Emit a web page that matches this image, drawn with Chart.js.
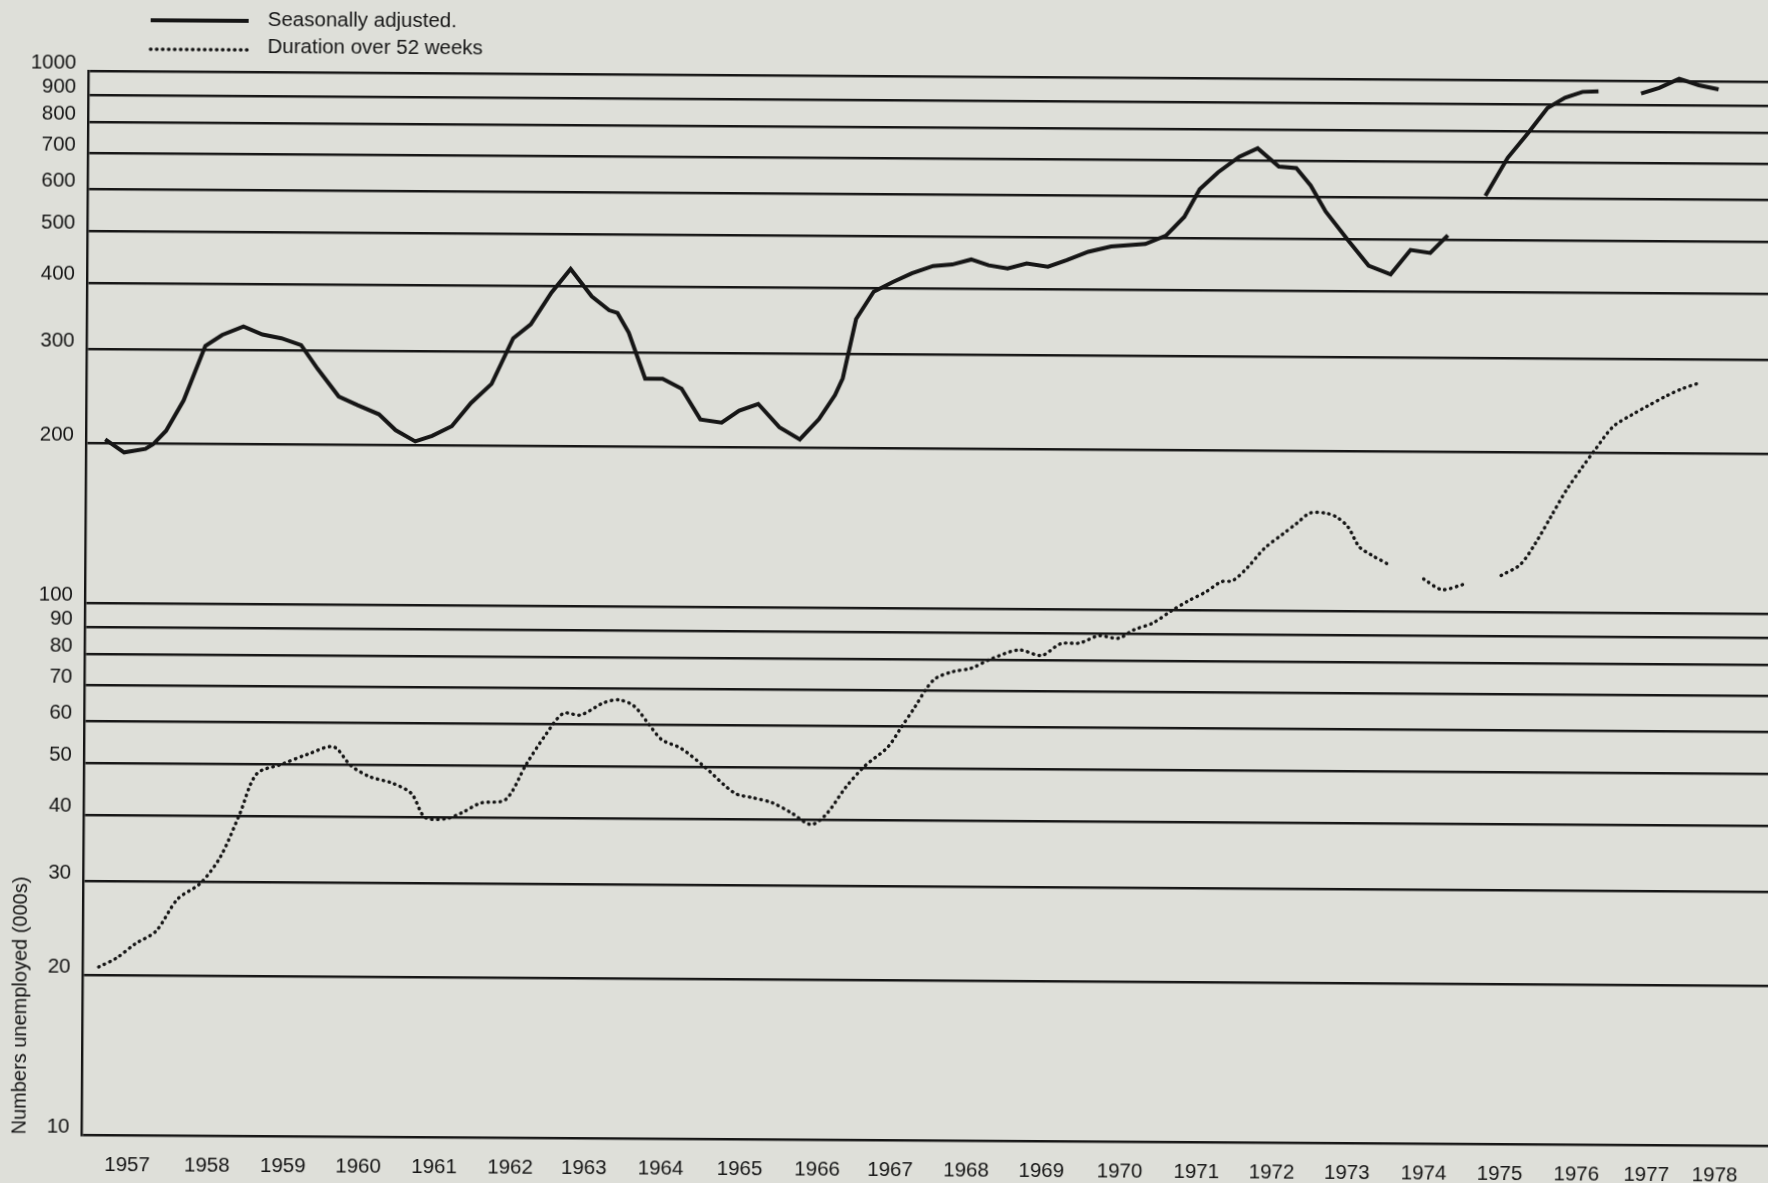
<!DOCTYPE html>
<html lang="en">
<head>
<meta charset="UTF-8">
<title>Numbers unemployed 1957-1978</title>
<script src="https://cdn.jsdelivr.net/npm/chart.js"></script>
<style>
  html, body {
    margin: 0;
    padding: 0;
    width: 1768px;
    height: 1183px;
    overflow: hidden;
    background: #dedfd9;
  }
  /* the printed page sits slightly askew in the scan */
  #wrap {
    position: absolute;
    left: 0;
    top: 0;
    width: 1790px;
    height: 1183px;
    transform: rotate(0.37deg);
    transform-origin: 884px 591px;
  }
</style>
</head>
<body>
<div id="wrap"><canvas id="chart" width="1790" height="1183"></canvas></div>
<script>
// Tick labels
const yTicks = [10, 20, 30, 40, 50, 60, 70, 80, 90, 100, 200, 300, 400, 500, 600, 700, 800, 900, 1000];
const yearLabels = ['1957', '1958', '1959', '1960', '1961', '1962', '1963', '1964', '1965', '1966', '1967',
  '1968', '1969', '1970', '1971', '1972', '1973', '1974', '1975', '1976', '1977', '1978'];
// where each year label sits on the time axis (decimal years)
const yearTickPos = [1957.50, 1958.55, 1959.55, 1960.54, 1961.54, 1962.54, 1963.51, 1964.52, 1965.56, 1966.58, 1967.54,
  1968.54, 1969.53, 1970.56, 1971.57, 1972.56, 1973.55, 1974.56, 1975.56, 1976.57, 1977.49, 1978.39];

// Seasonally adjusted (000s), null = break in the series
const saYears = [
  1957.15, 1957.40, 1957.68, 1957.78, 1957.95, 1958.18, 1958.46, 1958.68, 1958.96, 1959.21, 1959.46, 1959.72, 1959.94,
  1960.22, 1960.47, 1960.75, 1960.97, 1961.23, 1961.45, 1961.71, 1961.96, 1962.23, 1962.51, 1962.74, 1963.01, 1963.26,
  1963.54, 1963.77, 1963.88, 1964.03, 1964.25, 1964.48, 1964.73, 1964.98, 1965.26, 1965.49, 1965.74, 1966.02, 1966.29,
  1966.54, 1966.75, 1966.85, 1967.02, 1967.25, 1967.50, 1967.75, 1968.03, 1968.28, 1968.53, 1968.76, 1969.01, 1969.26,
  1969.54, 1969.79, 1970.07, 1970.37, 1970.82, 1971.09, 1971.33, 1971.53, 1971.77, 1972.05, 1972.29, 1972.57, 1972.80,
  1972.99, 1973.19, 1973.50, 1973.76, 1974.05, 1974.31, 1974.57, 1974.80, 1975.05,
  1975.29, 1975.58, 1975.84, 1976.10, 1976.33, 1976.56, 1976.77, 1977.05,
  1977.33, 1977.57, 1977.83, 1978.09, 1978.35
];
const saValues = [
  203, 192, 195, 199, 211, 241, 305, 320, 332, 321, 316, 307, 277,
  246, 237, 228, 213, 203, 208, 217, 240, 261, 318, 338, 388, 430,
  382, 360, 356, 327, 268, 268, 257, 225, 222, 234, 241, 218, 207,
  226, 251, 270, 349, 393, 410, 426, 440, 443, 453, 442, 436, 446,
  440, 453, 470, 481, 487, 505, 548, 618, 665, 712, 739, 683, 679,
  630, 563, 495, 446, 430, 478, 472, 510, null,
  605, 714, 793, 887, 928, 952, 955, null,
  947, 971, 1010, 983, 966
];

// Duration over 52 weeks (000s)
const ltYears = [
  1957.11, 1957.34, 1957.59, 1957.86, 1958.14, 1958.44, 1958.70, 1958.95, 1959.17, 1959.50, 1959.85, 1960.18, 1960.41,
  1960.66, 1960.96, 1961.21, 1961.39, 1961.67, 1961.87, 1962.12, 1962.45, 1962.72, 1962.97, 1963.20, 1963.43, 1963.73,
  1963.93, 1964.13, 1964.33, 1964.50, 1964.75, 1965.06, 1965.46, 1965.71, 1965.96, 1966.21, 1966.47, 1966.67, 1966.92,
  1967.17, 1967.47, 1967.65, 1967.83, 1967.98, 1968.10, 1968.33, 1968.56, 1968.83, 1969.19, 1969.49, 1969.74, 1969.99,
  1970.24, 1970.50, 1970.70, 1970.95, 1971.20, 1971.40, 1971.65, 1971.85, 1972.00, 1972.20, 1972.41, 1972.66, 1972.83,
  1973.01, 1973.21, 1973.36, 1973.51, 1973.66, 1973.82, 1974.06, 1974.30,
  1974.51, 1974.75, 1975.03, 1975.30,
  1975.53, 1975.78, 1975.98, 1976.18, 1976.38, 1976.59, 1976.74, 1976.99, 1977.24, 1977.44, 1977.69, 1977.89, 1978.12
];
const ltValues = [
  20.7, 21.5, 22.9, 24.2, 27.8, 29.8, 33.4, 40.2, 47.9, 50.0, 52.3, 54.0, 49.8,
  47.5, 46.2, 44.2, 39.9, 39.7, 40.7, 42.5, 43.2, 50.4, 57.2, 62.8, 62.4, 65.8,
  66.7, 65.0, 60.0, 56.2, 54.2, 50.1, 44.7, 43.8, 42.9, 41.1, 39.1, 40.9, 45.9,
  50.4, 54.7, 59.7, 65.3, 70.7, 73.9, 76.1, 77.2, 80.5, 83.7, 81.8, 86.1, 86.4,
  89.2, 88.3, 91.6, 94.4, 99.7, 103.7, 108.3, 113.1, 113.7, 120.7, 130.7, 139.5, 145.7,
  152.6, 152.7, 150.1, 143.9, 132.1, 127.5, 122.2, null,
  115.1, 110.0, 112.5, null,
  117.1, 122.8, 134.9, 151.3, 169.7, 187.7, 201, 223.7, 235.8, 244.8, 256, 263.9, 271
];

const INK = '#161616';
const FONT = '"Liberation Sans", Arial, Helvetica, sans-serif';

const toPoints = (xs, ys) => xs.map((x, i) => ({ x: x, y: ys[i] }));

// Two-row legend in the top left corner, as printed
const stackedLegend = {
  id: 'stackedLegend',
  afterDraw(chart) {
    const ctx = chart.ctx;
    const rows = [{ line: 25, text: 24 }, { line: 54, text: 51 }];
    ctx.save();
    chart.data.datasets.forEach((ds, i) => {
      ctx.beginPath();
      ctx.strokeStyle = ds.borderColor;
      ctx.lineWidth = ds.borderWidth;
      ctx.lineCap = ds.borderCapStyle || 'butt';
      ctx.setLineDash(ds.borderDash || []);
      ctx.moveTo(147, rows[i].line);
      ctx.lineTo(245, rows[i].line);
      ctx.stroke();
      ctx.setLineDash([]);
      ctx.fillStyle = INK;
      ctx.font = '20.5px ' + FONT;
      ctx.textBaseline = 'middle';
      ctx.textAlign = 'left';
      ctx.fillText(ds.label, 264, rows[i].text);
    });
    ctx.restore();
  }
};

new Chart(document.getElementById('chart'), {
  type: 'line',
  data: {
    datasets: [
      {
        label: 'Seasonally adjusted.',
        data: toPoints(saYears, saValues),
        borderColor: INK,
        borderWidth: 4,
        borderCapStyle: 'butt',
        borderJoinStyle: 'miter',
        pointRadius: 0,
        tension: 0,
        spanGaps: false,
        clip: false
      },
      {
        label: 'Duration over 52 weeks',
        data: toPoints(ltYears, ltValues),
        borderColor: INK,
        borderWidth: 3.4,
        borderDash: [0.5, 5.5],
        borderCapStyle: 'round',
        pointRadius: 0,
        tension: 0.3,
        spanGaps: false,
        clip: false
      }
    ]
  },
  plugins: [stackedLegend],
  options: {
    responsive: false,
    animation: false,
    devicePixelRatio: 1,
    layout: { padding: { top: 76, left: 0, right: 0, bottom: 0 } },
    plugins: {
      legend: { display: false },
      tooltip: { enabled: false }
    },
    scales: {
      x: {
        type: 'linear',
        min: 1956.897,
        max: 1979.332,
        afterBuildTicks: (scale) => {
          scale.ticks = yearTickPos.map(v => ({ value: v }));
        },
        afterFit: (scale) => { scale.height = 43; },
        grid: { display: false, drawTicks: false },
        border: { display: false },
        ticks: {
          autoSkip: false,
          maxRotation: 0,
          padding: 18.5,
          color: INK,
          font: { family: FONT, size: 20.5 },
          callback: (value, index) => yearLabels[index]
        }
      },
      y: {
        type: 'logarithmic',
        min: 10,
        max: 1000,
        afterBuildTicks: (scale) => {
          scale.ticks = yTicks.map(v => ({ value: v }));
        },
        afterFit: (scale) => { scale.width = 85; },
        grid: { color: INK, lineWidth: 2.4, drawTicks: false },
        border: { display: true, color: INK, width: 2.4 },
        ticks: {
          autoSkip: false,
          padding: 12,
          labelOffset: -8,
          color: INK,
          font: { family: FONT, size: 20.5 },
          callback: (value) => String(value)
        },
        title: {
          display: true,
          text: 'Numbers unemployed (000s)',
          align: 'start',
          color: INK,
          font: { family: FONT, size: 20 },
          padding: { top: 11, bottom: 0 }
        }
      }
    }
  }
});
</script>
</body>
</html>
